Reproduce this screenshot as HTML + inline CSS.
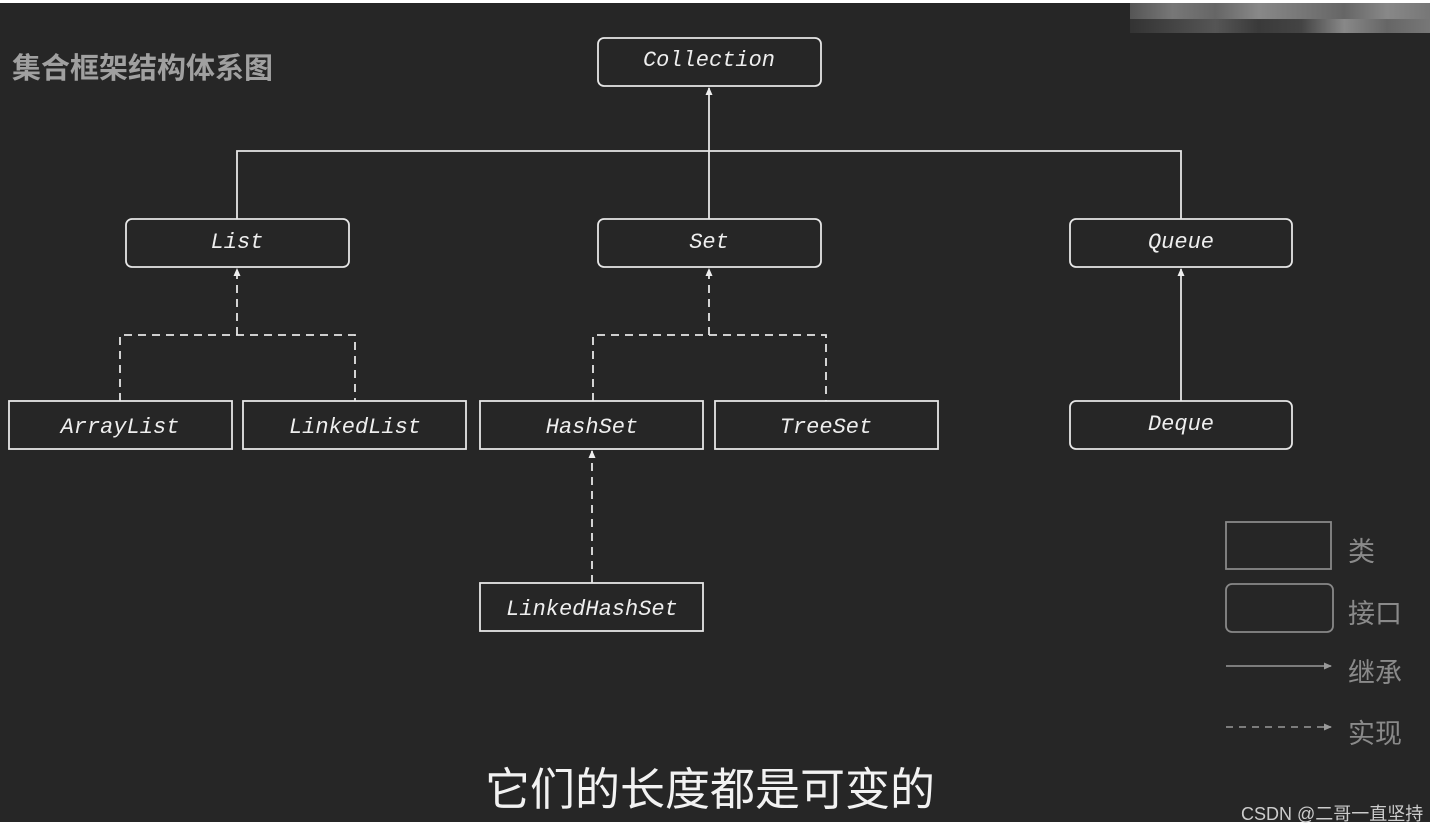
<!DOCTYPE html>
<html><head><meta charset="utf-8"><style>
html,body{margin:0;padding:0;background:#fff;}
#c{position:relative;width:1449px;height:832px;overflow:hidden;background:#fff;}
#bg{position:absolute;left:0;top:3px;width:1430px;height:819px;background:#262626;}
.t{position:absolute;font-family:"Liberation Sans","Noto Sans CJK SC",sans-serif;white-space:nowrap;}
</style></head><body><div id="c">
<div id="bg"></div>
<div style="position:absolute;left:1130px;top:3px;width:300px;height:16px;background:linear-gradient(90deg,#555,#777,#666,#888,#777,#666,#888,#777);"></div>
<div style="position:absolute;left:1130px;top:19px;width:300px;height:14px;background:linear-gradient(90deg,#333,#444,#555,#3a3a3a,#444,#888,#666,#777);"></div>
<svg width="1449" height="832" style="position:absolute;left:0;top:0" font-family="Liberation Mono, monospace" font-style="italic" font-size="22" fill="#eee">
<defs><marker id="a" markerUnits="userSpaceOnUse" markerWidth="8" markerHeight="8" refX="7" refY="4" orient="auto"><path d="M0,0.5L8,4L0,7.5z" fill="#eee"/></marker>
<marker id="b" markerUnits="userSpaceOnUse" markerWidth="8" markerHeight="8" refX="7" refY="4" orient="auto"><path d="M0,0.5L8,4L0,7.5z" fill="#999"/></marker></defs>
<g stroke="#e6e6e6" stroke-width="1.8" fill="none">
<rect x="598" y="38" width="223" height="48" rx="6"/>
<rect x="126" y="219" width="223" height="48" rx="6"/>
<rect x="598" y="219" width="223" height="48" rx="6"/>
<rect x="1070" y="219" width="222" height="48" rx="6"/>
<rect x="1070" y="401" width="222" height="48" rx="6"/>
<rect x="9" y="401" width="223" height="48"/>
<rect x="243" y="401" width="223" height="48"/>
<rect x="480" y="401" width="223" height="48"/>
<rect x="715" y="401" width="223" height="48"/>
<rect x="480" y="583" width="223" height="48"/>
<path d="M237,219V151H1181V219M709,219V151"/>
<path d="M709,151V88" marker-end="url(#a)"/>
<path d="M1181,401V269" marker-end="url(#a)"/>
<g stroke-dasharray="8,6">
<path d="M120,401V335H355V401"/>
<path d="M593,401V335H826V401"/>
<path d="M237,335V269" marker-end="url(#a)"/>
<path d="M709,335V269" marker-end="url(#a)"/>
<path d="M592,583V451" marker-end="url(#a)"/>
</g>
</g>
<g stroke="#888" stroke-width="1.8" fill="none">
<rect x="1226" y="522" width="105" height="47"/>
<rect x="1226" y="584" width="107" height="48" rx="6"/>
<path d="M1226,666H1331" marker-end="url(#b)"/>
<path d="M1226,727H1331" stroke-dasharray="7,6" marker-end="url(#b)"/>
</g>
<g text-anchor="middle">
<text x="709" y="66">Collection</text>
<text x="237" y="248">List</text>
<text x="709" y="248">Set</text>
<text x="1181" y="248">Queue</text>
<text x="1181" y="430">Deque</text>
<text x="120" y="433">ArrayList</text>
<text x="355" y="433">LinkedList</text>
<text x="592" y="433">HashSet</text>
<text x="826" y="433">TreeSet</text>
<text x="592" y="615">LinkedHashSet</text>
</g>
</svg>
<div class="t" style="left:12px;top:45px;font-size:29px;font-weight:bold;color:#a0a0a0">集合框架结构体系图</div>
<div class="t" style="left:1348px;top:530px;font-size:27px;color:#8a8a8a">类</div>
<div class="t" style="left:1348px;top:592px;font-size:27px;color:#8a8a8a">接口</div>
<div class="t" style="left:1348px;top:651px;font-size:27px;color:#8a8a8a">继承</div>
<div class="t" style="left:1348px;top:712px;font-size:27px;color:#8a8a8a">实现</div>
<div class="t" style="left:485px;top:753px;font-size:45px;color:#f2f2f2">它们的长度都是可变的</div>
<div class="t" style="left:1241px;top:800px;font-size:18px;color:#ccc">CSDN @二哥一直坚持</div>
</div></body></html>
